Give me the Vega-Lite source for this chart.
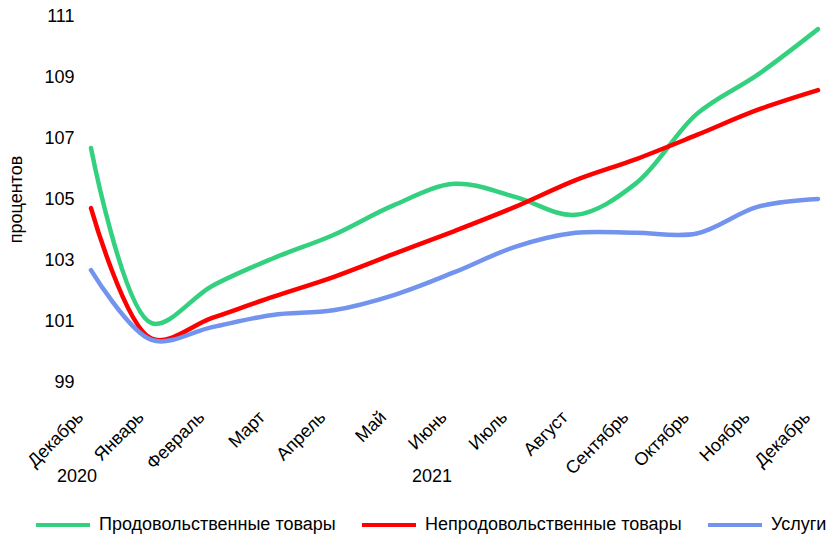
{
  "$schema": "https://vega.github.io/schema/vega-lite/v6.json",
  "width": 727,
  "height": 366,
  "autosize": {"type": "none"},
  "padding": {"left": 91, "top": 16, "right": 11, "bottom": 154},
  "background": "white",
  "config": {
    "view": {"stroke": null},
    "font": "Liberation Sans",
    "text": {"font": "Liberation Sans"}
  },
  "datasets": {
    "series": [
      {"t": 0, "s": "Продовольственные товары", "v": 106.67},
      {"t": 1, "s": "Продовольственные товары", "v": 100.93},
      {"t": 2, "s": "Продовольственные товары", "v": 102.15},
      {"t": 3, "s": "Продовольственные товары", "v": 103.05},
      {"t": 4, "s": "Продовольственные товары", "v": 103.82},
      {"t": 5, "s": "Продовольственные товары", "v": 104.8},
      {"t": 6, "s": "Продовольственные товары", "v": 105.5},
      {"t": 7, "s": "Продовольственные товары", "v": 105.07},
      {"t": 8, "s": "Продовольственные товары", "v": 104.48},
      {"t": 9, "s": "Продовольственные товары", "v": 105.52},
      {"t": 10, "s": "Продовольственные товары", "v": 107.79},
      {"t": 11, "s": "Продовольственные товары", "v": 109.07},
      {"t": 12, "s": "Продовольственные товары", "v": 110.57},
      {"t": 0, "s": "Непродовольственные товары", "v": 104.7},
      {"t": 1, "s": "Непродовольственные товары", "v": 100.42},
      {"t": 2, "s": "Непродовольственные товары", "v": 101.1},
      {"t": 3, "s": "Непродовольственные товары", "v": 101.79},
      {"t": 4, "s": "Непродовольственные товары", "v": 102.44},
      {"t": 5, "s": "Непродовольственные товары", "v": 103.2},
      {"t": 6, "s": "Непродовольственные товары", "v": 103.95},
      {"t": 7, "s": "Непродовольственные товары", "v": 104.74},
      {"t": 8, "s": "Непродовольственные товары", "v": 105.62},
      {"t": 9, "s": "Непродовольственные товары", "v": 106.31},
      {"t": 10, "s": "Непродовольственные товары", "v": 107.1},
      {"t": 11, "s": "Непродовольственные товары", "v": 107.92},
      {"t": 12, "s": "Непродовольственные товары", "v": 108.57},
      {"t": 0, "s": "Услуги", "v": 102.67},
      {"t": 1, "s": "Услуги", "v": 100.38},
      {"t": 2, "s": "Услуги", "v": 100.8},
      {"t": 3, "s": "Услуги", "v": 101.2},
      {"t": 4, "s": "Услуги", "v": 101.35},
      {"t": 5, "s": "Услуги", "v": 101.85},
      {"t": 6, "s": "Услуги", "v": 102.6},
      {"t": 7, "s": "Услуги", "v": 103.43},
      {"t": 8, "s": "Услуги", "v": 103.89},
      {"t": 9, "s": "Услуги", "v": 103.89},
      {"t": 10, "s": "Услуги", "v": 103.87},
      {"t": 11, "s": "Услуги", "v": 104.74},
      {"t": 12, "s": "Услуги", "v": 105.0}
    ],
    "years": [
      {"t": -0.23, "v": 95.9, "year": "2020"},
      {"t": 5.63, "v": 95.9, "year": "2021"}
    ]
  },
  "layer": [
    {
      "data": {"name": "series"},
      "mark": {"type": "line", "interpolate": "catmull-rom", "strokeWidth": 4.5, "strokeCap": "round", "clip": false},
      "encoding": {
        "x": {
          "field": "t", "type": "quantitative",
          "scale": {"domain": [0, 12], "nice": false, "zero": false},
          "axis": {
            "title": null, "grid": false, "domain": false, "ticks": false,
            "values": [0,1,2,3,4,5,6,7,8,9,10,11,12],
            "labelExpr": "['Декабрь','Январь','Февраль','Март','Апрель','Май','Июнь','Июль','Август','Сентябрь','Октябрь','Ноябрь','Декабрь'][datum.value]",
            "labelAngle": -45, "labelAlign": "right", "labelBaseline": "top",
            "labelPadding": 26, "labelOffset": -17, "labelFontSize": 18, "labelColor": "#000000",
            "labelFont": "Liberation Sans", "labelOverlap": false, "labelBound": false, "labelFlush": false
          }
        },
        "y": {
          "field": "v", "type": "quantitative",
          "scale": {"domain": [99, 111], "nice": false, "zero": false},
          "axis": {
            "title": "процентов", "titleFontSize": 18, "titleFontWeight": "normal", "titleColor": "#000000",
            "titleFont": "Liberation Sans", "titlePadding": 18,
            "grid": false, "domain": false, "ticks": false,
            "values": [99, 101, 103, 105, 107, 109, 111],
            "labelFontSize": 18, "labelColor": "#000000", "labelPadding": 17, "labelFont": "Liberation Sans"
          }
        },
        "color": {
          "field": "s", "type": "nominal",
          "scale": {
            "domain": ["Продовольственные товары", "Непродовольственные товары", "Услуги"],
            "range": ["#33D17F", "#FF0000", "#7293EE"]
          },
          "legend": {
            "title": null, "orient": "none", "direction": "horizontal",
            "legendX": -57, "legendY": 480,
            "symbolType": "stroke", "symbolStrokeWidth": 4, "symbolSize": 2916,
            "labelFontSize": 18, "labelColor": "#000000", "labelFont": "Liberation Sans",
            "columnPadding": 18, "labelOffset": 7, "labelLimit": 400
          }
        }
      }
    },
    {
      "data": {"name": "years"},
      "mark": {"type": "text", "fontSize": 18, "color": "#000000", "font": "Liberation Sans", "align": "center", "baseline": "middle"},
      "encoding": {
        "x": {"field": "t", "type": "quantitative"},
        "y": {"field": "v", "type": "quantitative"},
        "text": {"field": "year"}
      }
    }
  ]
}
